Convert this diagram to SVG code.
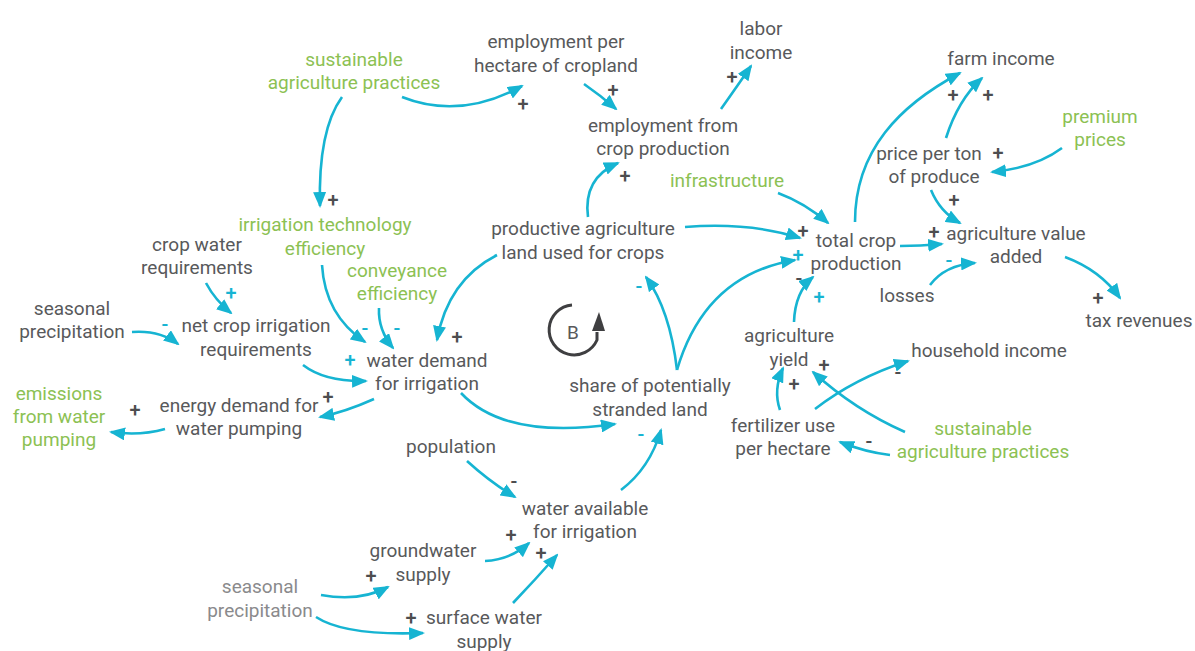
<svg xmlns="http://www.w3.org/2000/svg" width="1195" height="651" viewBox="0 0 1195 651">
<style>
text{font-family:Roboto,"Liberation Sans",sans-serif;font-size:19px;text-anchor:middle}
.n{fill:#58595b}
.g{fill:#8cc153}
.l{fill:#8a8a8c}
.s{font-size:20px;fill:#4d4d4f;font-weight:500}
.sc{font-size:20px;fill:#16b4d2;font-weight:500}
.c{fill:none;stroke:#16b4d2;stroke-width:2.6;marker-end:url(#ah)}
</style>
<defs>
<marker id="ah" viewBox="0 0 16 13" refX="14" refY="6.5" markerWidth="16" markerHeight="13" markerUnits="userSpaceOnUse" orient="auto">
<path d="M0,0 L16,6.5 L0,13 z" fill="#16b4d2"/>
</marker>
</defs>
<rect width="1195" height="651" fill="#fff"/>

<g id="connectors">
<path class="c" d="M342,97 Q318,130 320,206"/>
<path class="c" d="M402,97 Q460,120 522,86"/>
<path class="c" d="M584,84 Q600,95 616,109"/>
<path class="c" d="M721,109 Q738,85 751,66"/>
<path class="c" d="M588,217 Q583,178 618,163"/>
<path class="c" d="M685,227 Q750,222 800,238"/>
<path class="c" d="M778,193 Q805,203 828,223"/>
<path class="c" d="M677,370 Q705,275 795,260"/>
<path class="c" d="M677,370 Q670,310 646,277"/>
<path class="c" d="M794,322 Q795,292 813,277"/>
<path class="c" d="M900,246 Q920,246 942,244"/>
<path class="c" d="M855,222 C855,150 900,105 960,73"/>
<path class="c" d="M946,138 Q958,100 982,78"/>
<path class="c" d="M1062,148 Q1035,168 992,172"/>
<path class="c" d="M931,190 Q940,212 960,223"/>
<path class="c" d="M930,285 Q945,265 975,263"/>
<path class="c" d="M1065,257 Q1100,270 1120,298"/>
<path class="c" d="M815,409 Q855,378 908,361"/>
<path class="c" d="M905,432 Q855,410 813,372"/>
<path class="c" d="M780,410 Q773,390 783,368"/>
<path class="c" d="M890,455 Q865,452 840,442"/>
<path class="c" d="M497,255 Q448,280 437,340"/>
<path class="c" d="M461,393 Q505,440 615,424"/>
<path class="c" d="M467,461 Q490,482 515,497"/>
<path class="c" d="M621,490 Q650,468 661,430"/>
<path class="c" d="M485,561 Q510,560 529,543"/>
<path class="c" d="M513,603 Q535,580 557,555"/>
<path class="c" d="M321,595 Q360,602 388,587"/>
<path class="c" d="M316,617 Q345,636 423,633"/>
<path class="c" d="M206,283 Q215,300 231,313"/>
<path class="c" d="M132,332 Q160,330 178,344"/>
<path class="c" d="M303,365 Q325,382 366,381"/>
<path class="c" d="M322,265 Q325,315 365,342"/>
<path class="c" d="M379,308 Q378,330 393,348"/>
<path class="c" d="M374,399 Q345,412 320,417"/>
<path class="c" d="M165,429 Q140,436 111,432"/>
</g>

<g id="signs">
<text class="s" x="333" y="207">+</text>
<text class="s" x="523" y="111">+</text>
<text class="s" x="613" y="97">+</text>
<text class="s" x="732" y="84">+</text>
<text class="s" x="625" y="183">+</text>
<text class="s" x="803" y="238">+</text>
<text class="s" x="953" y="102">+</text>
<text class="s" x="988" y="102">+</text>
<text class="s" x="998" y="160">+</text>
<text class="s" x="954" y="207">+</text>
<text class="s" x="934" y="239">+</text>
<text class="s" x="1098" y="305">+</text>
<text class="s" x="824" y="372">+</text>
<text class="s" x="794" y="391">+</text>
<text class="s" x="457" y="344">+</text>
<text class="s" x="328" y="404">+</text>
<text class="s" x="135" y="417">+</text>
<text class="s" x="371" y="583">+</text>
<text class="s" x="411" y="625">+</text>
<text class="s" x="511" y="542">+</text>
<text class="s" x="541" y="560">+</text>
<text class="s" x="514" y="488">-</text>
<text class="s" x="799" y="285">-</text>
<text class="s" x="898" y="379">-</text>
<text class="s" x="869" y="448">-</text>
<text class="sc" x="231" y="300">+</text>
<text class="sc" x="165" y="331">-</text>
<text class="sc" x="350" y="367">+</text>
<text class="sc" x="365" y="335">-</text>
<text class="sc" x="397" y="335">-</text>
<text class="sc" x="639" y="293">-</text>
<text class="sc" x="798" y="262">+</text>
<text class="sc" x="819" y="304">+</text>
<text class="sc" x="949" y="267">-</text>
<text class="sc" x="641" y="441">-</text>
</g>

<g id="loop-B">
<path d="M572,305 A25,25 0 1 0 597,340 L597,332" fill="none" stroke="#3f3f41" stroke-width="3"/>
<path d="M599,312 L605,331 L592,331 z" fill="#3f3f41"/>
<text class="n" x="573" y="339">B</text>
</g>

<g id="sustainable-agriculture-top"><text class="g"><tspan x="354" y="66">sustainable</tspan><tspan x="354" y="89">agriculture practices</tspan></text></g>
<g id="employment-per-hectare"><text class="n"><tspan x="556" y="48">employment per</tspan><tspan x="556" y="72">hectare of cropland</tspan></text></g>
<g id="labor-income"><text class="n"><tspan x="761" y="35">labor</tspan><tspan x="761" y="59">income</tspan></text></g>
<g id="employment-crop"><text class="n"><tspan x="663" y="132">employment from</tspan><tspan x="663" y="155">crop production</tspan></text></g>
<g id="infrastructure"><text class="g" x="727" y="187">infrastructure</text></g>
<g id="farm-income"><text class="n" x="1001" y="65">farm income</text></g>
<g id="premium-prices"><text class="g"><tspan x="1100" y="123">premium</tspan><tspan x="1100" y="146">prices</tspan></text></g>
<g id="price-per-ton"><text class="n"><tspan x="929" y="160">price per ton</tspan><tspan x="934" y="183">of produce</tspan></text></g>
<g id="total-crop"><text class="n"><tspan x="856" y="247">total crop</tspan><tspan x="856" y="270">production</tspan></text></g>
<g id="agriculture-value-added"><text class="n"><tspan x="1016" y="240">agriculture value</tspan><tspan x="1016" y="263">added</tspan></text></g>
<g id="losses"><text class="n" x="907" y="302">losses</text></g>
<g id="tax-revenues"><text class="n" x="1139" y="327">tax revenues</text></g>
<g id="household-income"><text class="n" x="989" y="357">household income</text></g>
<g id="agriculture-yield"><text class="n"><tspan x="789" y="342">agriculture</tspan><tspan x="789" y="366">yield</tspan></text></g>
<g id="fertilizer-use"><text class="n"><tspan x="783" y="432">fertilizer use</tspan><tspan x="783" y="455">per hectare</tspan></text></g>
<g id="sustainable-agriculture-right"><text class="g"><tspan x="983" y="435">sustainable</tspan><tspan x="983" y="458">agriculture practices</tspan></text></g>
<g id="productive-land"><text class="n"><tspan x="583" y="235">productive agriculture</tspan><tspan x="583" y="259">land used for crops</tspan></text></g>
<g id="share-stranded"><text class="n"><tspan x="650" y="392">share of potentially</tspan><tspan x="650" y="416">stranded land</tspan></text></g>
<g id="water-demand"><text class="n"><tspan x="427" y="367">water demand</tspan><tspan x="427" y="390">for irrigation</tspan></text></g>
<g id="irrigation-technology"><text class="g"><tspan x="325" y="231">irrigation technology</tspan><tspan x="325" y="255">efficiency</tspan></text></g>
<g id="conveyance-efficiency"><text class="g"><tspan x="397" y="277">conveyance</tspan><tspan x="397" y="300">efficiency</tspan></text></g>
<g id="crop-water"><text class="n"><tspan x="197" y="251">crop water</tspan><tspan x="197" y="274">requirements</tspan></text></g>
<g id="seasonal-precipitation-left"><text class="n"><tspan x="72" y="315">seasonal</tspan><tspan x="72" y="338">precipitation</tspan></text></g>
<g id="net-crop-irrigation"><text class="n"><tspan x="256" y="332">net crop irrigation</tspan><tspan x="256" y="356">requirements</tspan></text></g>
<g id="energy-demand"><text class="n"><tspan x="239" y="412">energy demand for</tspan><tspan x="239" y="435">water pumping</tspan></text></g>
<g id="emissions"><text class="g"><tspan x="59" y="400">emissions</tspan><tspan x="59" y="423">from water</tspan><tspan x="59" y="446">pumping</tspan></text></g>
<g id="population"><text class="n" x="451" y="453">population</text></g>
<g id="water-available"><text class="n"><tspan x="585" y="515">water available</tspan><tspan x="585" y="538">for irrigation</tspan></text></g>
<g id="groundwater"><text class="n"><tspan x="423" y="557">groundwater</tspan><tspan x="423" y="581">supply</tspan></text></g>
<g id="seasonal-precipitation-bottom"><text class="l"><tspan x="260" y="593">seasonal</tspan><tspan x="260" y="617">precipitation</tspan></text></g>
<g id="surface-water"><text class="n"><tspan x="484" y="624">surface water</tspan><tspan x="484" y="648">supply</tspan></text></g>
</svg>
